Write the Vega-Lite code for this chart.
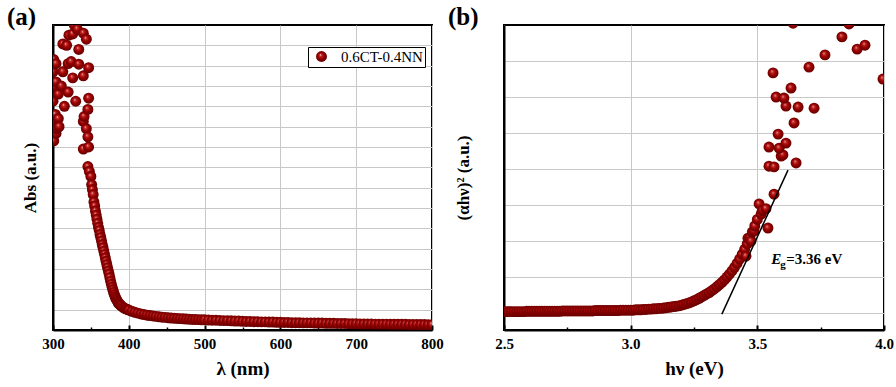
{
  "$schema": "https://vega.github.io/schema/vega-lite/v6.json",
  "background": "white",
  "padding": {"left": 6, "right": 0, "top": 4, "bottom": 2},
  "spacing": 2,
  "config": {
    "view": {"stroke": "black", "strokeWidth": 2},
    "font": "Liberation Serif",
    "axis": {
      "labelFont": "Liberation Serif", "labelFontWeight": "bold", "labelFontSize": 15, "labelColor": "black", "labelFlush": false,
      "titleFont": "Liberation Serif", "titleFontWeight": "bold", "titleColor": "black",
      "gridColor": "#c8c8c8", "gridWidth": 1, "gridOpacity": 1,
      "domainColor": "black", "domainWidth": 2, "tickColor": "black", "tickWidth": 2
    },
    "legend": {"labelFont": "Liberation Serif", "labelFontSize": 15, "labelColor": "black"}
  },
  "datasets": {
    "a": [
      {"nm":300,"abs":12.7},{"nm":300,"abs":11.25},{"nm":301,"abs":10.3},{"nm":301,"abs":13.3},{"nm":301,"abs":9.3},{"nm":302,"abs":12.0},{"nm":303,"abs":10.6},
      {"nm":304,"abs":13.1},{"nm":304,"abs":12.2},{"nm":304,"abs":9.67},{"nm":305,"abs":9.9},{"nm":307,"abs":11.6},{"nm":307,"abs":10.4},{"nm":308,"abs":10.0},
      {"nm":311,"abs":12.0},{"nm":313,"abs":14.07},{"nm":313,"abs":12.7},{"nm":315,"abs":11.0},{"nm":318,"abs":14.0},{"nm":320,"abs":13.1},{"nm":320,"abs":11.7},
      {"nm":321,"abs":14.5},{"nm":324,"abs":13.2},{"nm":326,"abs":14.56},{"nm":326,"abs":12.4},{"nm":328,"abs":15.0},{"nm":330,"abs":11.25},{"nm":332,"abs":14.8},
      {"nm":334,"abs":13.8},{"nm":334,"abs":13.07},{"nm":340,"abs":14.6},{"nm":340,"abs":12.5},{"nm":340,"abs":10.26},{"nm":340,"abs":8.9},{"nm":341,"abs":10.5},
      {"nm":344,"abs":14.3},{"nm":344,"abs":9.9},{"nm":346,"abs":10.85},{"nm":346,"abs":9.5},{"nm":347,"abs":12.9},{"nm":347,"abs":11.4},{"nm":347,"abs":9.0},
      {"nm":346,"abs":8.04},{"nm":348,"abs":7.8},{"nm":350,"abs":7.55},{"nm":351,"abs":7.15},{"nm":352,"abs":6.9},{"nm":353,"abs":6.66},{"nm":354,"abs":6.3},
      {"nm":355,"abs":6.1},{"nm":356,"abs":5.85},{"nm":357,"abs":5.65},{"nm":358,"abs":5.45},{"nm":359,"abs":5.25},{"nm":360,"abs":5.05},{"nm":361,"abs":4.9},
      {"nm":362,"abs":4.7},{"nm":363,"abs":4.55},{"nm":364,"abs":4.38},{"nm":365,"abs":4.2},{"nm":366,"abs":4.05},{"nm":367,"abs":3.88},{"nm":368,"abs":3.72},
      {"nm":369,"abs":3.55},{"nm":370,"abs":3.38},{"nm":371,"abs":3.22},{"nm":372,"abs":3.06},{"nm":373,"abs":2.9},{"nm":374,"abs":2.75},{"nm":375,"abs":2.58},
      {"nm":376,"abs":2.4},{"nm":377,"abs":2.25},{"nm":378,"abs":2.1},{"nm":379,"abs":1.97},{"nm":380,"abs":1.85},{"nm":381,"abs":1.74},{"nm":382,"abs":1.64},
      {"nm":383,"abs":1.55},{"nm":384,"abs":1.48},{"nm":385,"abs":1.41},{"nm":386,"abs":1.35},{"nm":387,"abs":1.3},{"nm":388,"abs":1.26},{"nm":389,"abs":1.22},
      {"nm":390,"abs":1.19},{"nm":392,"abs":1.13},{"nm":394,"abs":1.08},{"nm":396,"abs":1.04},{"nm":398,"abs":1.01},{"nm":400,"abs":0.98},{"nm":404,"abs":0.92},
      {"nm":408,"abs":0.87},{"nm":412,"abs":0.83},{"nm":416,"abs":0.79},{"nm":420,"abs":0.76},{"nm":424,"abs":0.73},{"nm":428,"abs":0.71},{"nm":432,"abs":0.69},
      {"nm":436,"abs":0.67},{"nm":440,"abs":0.65},{"nm":444,"abs":0.63},{"nm":448,"abs":0.62},{"nm":452,"abs":0.6},{"nm":456,"abs":0.59},{"nm":460,"abs":0.58},
      {"nm":464,"abs":0.57},{"nm":468,"abs":0.56},{"nm":472,"abs":0.55},{"nm":476,"abs":0.54},{"nm":480,"abs":0.53},{"nm":484,"abs":0.52},{"nm":488,"abs":0.52},
      {"nm":492,"abs":0.51},{"nm":496,"abs":0.5},{"nm":500,"abs":0.5},{"nm":505,"abs":0.49},{"nm":510,"abs":0.48},{"nm":515,"abs":0.48},{"nm":520,"abs":0.47},
      {"nm":525,"abs":0.46},{"nm":530,"abs":0.46},{"nm":535,"abs":0.45},{"nm":540,"abs":0.44},{"nm":545,"abs":0.44},{"nm":550,"abs":0.43},{"nm":555,"abs":0.42},
      {"nm":560,"abs":0.42},{"nm":565,"abs":0.41},{"nm":570,"abs":0.41},{"nm":575,"abs":0.4},{"nm":580,"abs":0.4},{"nm":585,"abs":0.39},{"nm":590,"abs":0.39},
      {"nm":595,"abs":0.38},{"nm":600,"abs":0.38},{"nm":605,"abs":0.37},{"nm":610,"abs":0.37},{"nm":615,"abs":0.36},{"nm":620,"abs":0.36},{"nm":625,"abs":0.36},
      {"nm":630,"abs":0.35},{"nm":635,"abs":0.35},{"nm":640,"abs":0.35},{"nm":645,"abs":0.34},{"nm":650,"abs":0.34},{"nm":655,"abs":0.34},{"nm":660,"abs":0.33},
      {"nm":665,"abs":0.33},{"nm":670,"abs":0.33},{"nm":675,"abs":0.32},{"nm":680,"abs":0.32},{"nm":685,"abs":0.32},{"nm":690,"abs":0.31},{"nm":695,"abs":0.31},
      {"nm":700,"abs":0.31},{"nm":705,"abs":0.3},{"nm":710,"abs":0.3},{"nm":715,"abs":0.3},{"nm":720,"abs":0.3},{"nm":725,"abs":0.29},{"nm":730,"abs":0.29},
      {"nm":735,"abs":0.29},{"nm":740,"abs":0.29},{"nm":745,"abs":0.28},{"nm":750,"abs":0.28},{"nm":755,"abs":0.28},{"nm":760,"abs":0.28},{"nm":765,"abs":0.28},
      {"nm":770,"abs":0.27},{"nm":775,"abs":0.27},{"nm":780,"abs":0.27},{"nm":785,"abs":0.27},{"nm":790,"abs":0.27},{"nm":795,"abs":0.26},{"nm":800,"abs":0.26}
    ],
    "b": [
      {"ev":2.5,"ahv":0.04},{"ev":2.51,"ahv":0.04},{"ev":2.52,"ahv":0.04},{"ev":2.53,"ahv":0.04},{"ev":2.54,"ahv":0.04},{"ev":2.55,"ahv":0.04},{"ev":2.56,"ahv":0.04},
      {"ev":2.57,"ahv":0.04},{"ev":2.58,"ahv":0.04},{"ev":2.59,"ahv":0.05},{"ev":2.6,"ahv":0.05},{"ev":2.61,"ahv":0.05},{"ev":2.62,"ahv":0.05},{"ev":2.63,"ahv":0.05},
      {"ev":2.64,"ahv":0.05},{"ev":2.65,"ahv":0.05},{"ev":2.66,"ahv":0.05},{"ev":2.67,"ahv":0.05},{"ev":2.68,"ahv":0.05},{"ev":2.69,"ahv":0.05},{"ev":2.7,"ahv":0.05},
      {"ev":2.71,"ahv":0.05},{"ev":2.72,"ahv":0.05},{"ev":2.73,"ahv":0.06},{"ev":2.74,"ahv":0.06},{"ev":2.75,"ahv":0.06},{"ev":2.76,"ahv":0.06},{"ev":2.77,"ahv":0.06},
      {"ev":2.78,"ahv":0.06},{"ev":2.79,"ahv":0.06},{"ev":2.8,"ahv":0.06},{"ev":2.81,"ahv":0.06},{"ev":2.82,"ahv":0.06},{"ev":2.83,"ahv":0.06},{"ev":2.84,"ahv":0.06},
      {"ev":2.85,"ahv":0.06},{"ev":2.86,"ahv":0.07},{"ev":2.87,"ahv":0.07},{"ev":2.88,"ahv":0.07},{"ev":2.89,"ahv":0.07},{"ev":2.9,"ahv":0.07},{"ev":2.91,"ahv":0.07},
      {"ev":2.92,"ahv":0.07},{"ev":2.93,"ahv":0.07},{"ev":2.94,"ahv":0.07},{"ev":2.95,"ahv":0.07},{"ev":2.96,"ahv":0.08},{"ev":2.97,"ahv":0.08},{"ev":2.98,"ahv":0.08},
      {"ev":2.99,"ahv":0.08},{"ev":3.0,"ahv":0.08},{"ev":3.01,"ahv":0.08},{"ev":3.02,"ahv":0.09},{"ev":3.03,"ahv":0.09},{"ev":3.04,"ahv":0.09},{"ev":3.05,"ahv":0.1},
      {"ev":3.06,"ahv":0.1},{"ev":3.07,"ahv":0.11},{"ev":3.08,"ahv":0.11},{"ev":3.09,"ahv":0.12},{"ev":3.1,"ahv":0.12},{"ev":3.11,"ahv":0.13},{"ev":3.12,"ahv":0.13},
      {"ev":3.13,"ahv":0.14},{"ev":3.14,"ahv":0.15},{"ev":3.15,"ahv":0.16},{"ev":3.16,"ahv":0.17},{"ev":3.17,"ahv":0.18},{"ev":3.18,"ahv":0.19},{"ev":3.19,"ahv":0.2},
      {"ev":3.2,"ahv":0.22},{"ev":3.21,"ahv":0.24},{"ev":3.22,"ahv":0.26},{"ev":3.23,"ahv":0.28},{"ev":3.24,"ahv":0.31},{"ev":3.25,"ahv":0.34},{"ev":3.26,"ahv":0.37},
      {"ev":3.27,"ahv":0.41},{"ev":3.28,"ahv":0.45},{"ev":3.29,"ahv":0.49},{"ev":3.3,"ahv":0.53},{"ev":3.31,"ahv":0.57},{"ev":3.32,"ahv":0.62},{"ev":3.33,"ahv":0.67},
      {"ev":3.34,"ahv":0.73},{"ev":3.35,"ahv":0.79},{"ev":3.36,"ahv":0.85},{"ev":3.37,"ahv":0.92},{"ev":3.38,"ahv":1.0},{"ev":3.39,"ahv":1.08},{"ev":3.4,"ahv":1.17},
      {"ev":3.41,"ahv":1.27},{"ev":3.42,"ahv":1.38},{"ev":3.43,"ahv":1.5},{"ev":3.44,"ahv":1.63},{"ev":3.45,"ahv":1.77},{"ev":3.455,"ahv":1.58},{"ev":3.46,"ahv":1.92},
      {"ev":3.463,"ahv":2.08},{"ev":3.47,"ahv":2.08},{"ev":3.475,"ahv":2.0},{"ev":3.48,"ahv":2.25},{"ev":3.487,"ahv":2.28},{"ev":3.49,"ahv":2.42},{"ev":3.5,"ahv":2.6},
      {"ev":3.507,"ahv":3.03},{"ev":3.515,"ahv":2.75},{"ev":3.52,"ahv":2.85},{"ev":3.534,"ahv":2.9},{"ev":3.542,"ahv":2.36},{"ev":3.566,"ahv":3.3},
      {"ev":3.546,"ahv":4.08},{"ev":3.566,"ahv":4.06},{"ev":3.653,"ahv":4.17},{"ev":3.594,"ahv":4.36},{"ev":3.601,"ahv":4.39},{"ev":3.546,"ahv":4.61},
      {"ev":3.586,"ahv":4.58},{"ev":3.613,"ahv":4.72},{"ev":3.582,"ahv":4.97},{"ev":3.645,"ahv":5.28},{"ev":3.613,"ahv":5.75},{"ev":3.574,"ahv":6.0},
      {"ev":3.605,"ahv":5.97},{"ev":3.633,"ahv":6.25},{"ev":3.661,"ahv":5.72},{"ev":3.724,"ahv":5.69},{"ev":3.562,"ahv":6.67},{"ev":3.704,"ahv":6.83},
      {"ev":3.767,"ahv":7.17},{"ev":3.834,"ahv":7.67},{"ev":3.862,"ahv":8.03},{"ev":3.894,"ahv":7.33},{"ev":3.925,"ahv":7.44},{"ev":3.996,"ahv":6.5},{"ev":3.641,"ahv":8.05}
    ],
    "tangent": [{"ev":3.36,"ahv":-0.03},{"ev":3.621,"ahv":3.97}],
    "label": [{"ev":3.555,"ahv":1.36}]
  },
  "hconcat": [
    {
      "width": 379,
      "height": 305,
      "title": {"text": "(a)", "anchor": "start", "frame": "group", "dx": -46, "offset": -5, "fontSize": 25, "fontWeight": "bold", "font": "Liberation Serif", "color": "black"},
      "resolve": {"axis": {"x": "independent"}},
      "layer": [
        {
          "data": {"name": "a"},
          "mark": {"type": "point", "filled": true, "size": 120, "opacity": 1, "strokeWidth": 0, "clip": true,
            "color": {"gradient": "radial", "x1": 0.4, "y1": 0.35, "r1": 0, "x2": 0.5, "y2": 0.5, "r2": 0.55,
              "stops": [{"offset": 0, "color": "#ffe8e8"}, {"offset": 0.18, "color": "#c83030"}, {"offset": 0.5, "color": "#9a0000"}, {"offset": 1, "color": "#5a0000"}]}},
          "encoding": {
            "x": {"field": "nm", "type": "quantitative", "scale": {"domain": [300, 800], "nice": false, "padding": 0},
              "axis": {"orient": "bottom", "title": "λ (nm)", "values": [300, 400, 500, 600, 700, 800], "format": "d", "grid": true, "tickSize": -5, "labelPadding": 11, "titleFontSize": 19, "titlePadding": 8}},
            "y": {"field": "abs", "type": "quantitative", "scale": {"domain": [0, 15], "nice": false, "padding": 0},
              "axis": {"title": "Abs (a.u.)", "values": [1,2,3,4,5,6,7,8,9,10,11,12,13,14], "labels": false, "ticks": false, "grid": true, "titleFontSize": 17, "titlePadding": 14}},
            "shape": {"datum": "0.6CT-0.4NN", "type": "nominal", "scale": {"range": ["circle"]},
              "legend": {"title": null, "orient": "none", "legendX": 255, "legendY": 22, "strokeColor": "black", "fillColor": "white", "padding": 2, "symbolOffset": 4, "symbolSize": 120, "symbolStrokeWidth": 0, "symbolFillColor": "#9a0000", "labelOffset": 12}}
          }
        },
        {
          "data": {"values": [{"nm": 300}]},
          "mark": {"type": "point", "opacity": 0},
          "encoding": {
            "x": {"field": "nm", "type": "quantitative",
              "axis": {"orient": "bottom", "title": null, "values": [350, 450, 550, 650, 750], "labels": false, "domain": false, "grid": false, "tickSize": -3, "tickWidth": 1.5}}
          }
        }
      ]
    },
    {
      "width": 380,
      "height": 305,
      "title": {"text": "(b)", "anchor": "start", "frame": "group", "dx": -56, "offset": -5, "fontSize": 25, "fontWeight": "bold", "font": "Liberation Serif", "color": "black"},
      "resolve": {"axis": {"x": "independent"}},
      "layer": [
        {
          "data": {"name": "b"},
          "mark": {"type": "point", "filled": true, "size": 120, "opacity": 1, "strokeWidth": 0, "clip": true,
            "color": {"gradient": "radial", "x1": 0.4, "y1": 0.35, "r1": 0, "x2": 0.5, "y2": 0.5, "r2": 0.55,
              "stops": [{"offset": 0, "color": "#ffe8e8"}, {"offset": 0.18, "color": "#c83030"}, {"offset": 0.5, "color": "#9a0000"}, {"offset": 1, "color": "#5a0000"}]}},
          "encoding": {
            "x": {"field": "ev", "type": "quantitative", "scale": {"domain": [2.5, 4.0], "nice": false, "padding": 0},
              "axis": {"orient": "bottom", "title": "hν (eV)", "values": [2.5, 3.0, 3.5, 4.0], "format": ".1f", "grid": true, "tickSize": -5, "labelPadding": 11, "titleFontSize": 19, "titlePadding": 8}},
            "y": {"field": "ahv", "type": "quantitative", "scale": {"domain": [-0.47, 8], "nice": false, "zero": false, "padding": 0},
              "axis": {"title": "(αhν)² (a.u.)", "values": [0,1,2,3,4,5,6,7], "labels": false, "ticks": false, "grid": true, "titleFontSize": 17, "titlePadding": 32}},
            "shape": {"datum": "0.6CT-0.4NN", "type": "nominal", "scale": {"range": ["circle"]},
              "legend": {"title": null, "orient": "none", "legendX": 5, "legendY": 4, "strokeColor": "black", "fillColor": "white", "padding": 2, "symbolOffset": 4, "symbolSize": 120, "symbolStrokeWidth": 0, "symbolFillColor": "#9a0000", "labelOffset": 12}}
          }
        },
        {
          "data": {"values": [{"ev": 2.5}]},
          "mark": {"type": "point", "opacity": 0},
          "encoding": {
            "x": {"field": "ev", "type": "quantitative",
              "axis": {"orient": "bottom", "title": null, "values": [2.75, 3.25, 3.75], "labels": false, "domain": false, "grid": false, "tickSize": -3, "tickWidth": 1.5}}
          }
        },
        {
          "data": {"name": "tangent"},
          "mark": {"type": "line", "color": "black", "strokeWidth": 1.5},
          "encoding": {"x": {"field": "ev", "type": "quantitative", "axis": null}, "y": {"field": "ahv", "type": "quantitative"}}
        },
        {
          "data": {"name": "label"},
          "mark": {"type": "text", "text": "E", "align": "left", "baseline": "alphabetic", "fontStyle": "italic", "fontWeight": "bold", "fontSize": 15, "font": "Liberation Serif", "color": "black"},
          "encoding": {"x": {"field": "ev", "type": "quantitative", "axis": null}, "y": {"field": "ahv", "type": "quantitative"}}
        },
        {
          "data": {"name": "label"},
          "mark": {"type": "text", "text": "g", "align": "left", "baseline": "alphabetic", "dx": 9, "dy": 4, "fontWeight": "bold", "fontSize": 11, "font": "Liberation Serif", "color": "black"},
          "encoding": {"x": {"field": "ev", "type": "quantitative", "axis": null}, "y": {"field": "ahv", "type": "quantitative"}}
        },
        {
          "data": {"name": "label"},
          "mark": {"type": "text", "text": "=3.36 eV", "align": "left", "baseline": "alphabetic", "dx": 15, "fontWeight": "bold", "fontSize": 15, "font": "Liberation Serif", "color": "black"},
          "encoding": {"x": {"field": "ev", "type": "quantitative", "axis": null}, "y": {"field": "ahv", "type": "quantitative"}}
        }
      ]
    }
  ]
}
